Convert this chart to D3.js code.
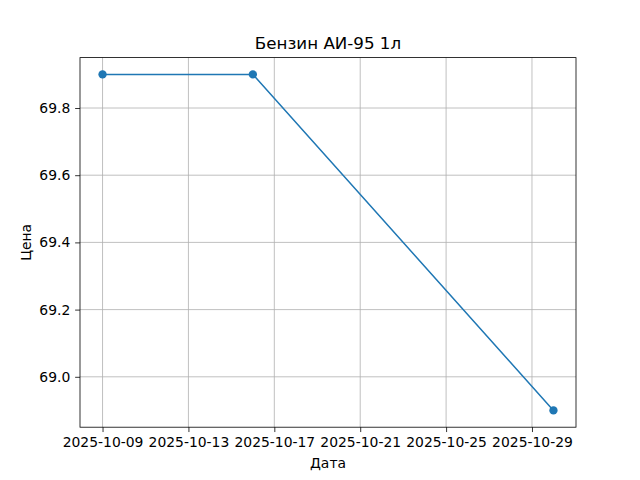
<!DOCTYPE html>
<html><head><meta charset="utf-8">
<script src="https://cdn.jsdelivr.net/npm/d3@7"></script>
<style>body{margin:0;background:#fff}svg{display:block}text{font-family:"DejaVu Sans",sans-serif;fill:#000}</style>
</head><body>
<script>
const dates = ["2025-10-09","2025-10-16","2025-10-30"];
const prices = [69.9, 69.9, 68.9];
const xTickLabels = ["2025-10-09","2025-10-13","2025-10-17","2025-10-21","2025-10-25","2025-10-29"];
const yTicks = [69.0, 69.2, 69.4, 69.6, 69.8];
const title = "Бензин АИ-95 1л";
const xLabel = "Дата";
const yLabel = "Цена";

const W=640,H=480;
const L=80,R=576,T=57.6,B=427.2;
const parse=d3.utcParse("%Y-%m-%d");
const data=dates.map((d,i)=>({d:parse(d),v:prices[i]}));
const x0=+data[0].d, x1=+data[data.length-1].d, span=x1-x0;
const x=d3.scaleUtc().domain([new Date(x0-span*0.05),new Date(x1+span*0.05)]).range([L,R]);
const vmin=d3.min(prices), vmax=d3.max(prices), vs=vmax-vmin;
const y=d3.scaleLinear().domain([vmin-vs*0.05,vmax+vs*0.05]).range([B,T]);

const svg=d3.select("body").append("svg").attr("width",W).attr("height",H);
const xt=xTickLabels.map(parse);
const g=svg.append("g");
g.selectAll(".gx").data(xt).join("line").attr("x1",d=>x(d)).attr("x2",d=>x(d)).attr("y1",T).attr("y2",B).attr("stroke","#b0b0b0").attr("stroke-width",0.8);
g.selectAll(".gy").data(yTicks).join("line").attr("x1",L).attr("x2",R).attr("y1",d=>y(d)).attr("y2",d=>y(d)).attr("stroke","#b0b0b0").attr("stroke-width",0.8);

const xa=svg.append("g").attr("transform",`translate(0,${B})`).call(d3.axisBottom(x).tickValues(xt).tickFormat(d3.utcFormat("%Y-%m-%d")).tickSizeInner(4.86).tickSizeOuter(0).tickPadding(4.86));
const ya=svg.append("g").attr("transform",`translate(${L},0)`).call(d3.axisLeft(y).tickValues(yTicks).tickFormat(d3.format(".1f")).tickSizeInner(4.86).tickSizeOuter(0).tickPadding(4.86));
[xa,ya].forEach(a=>{a.select(".domain").remove();a.selectAll("text").attr("font-size","13.9px").attr("font-family","DejaVu Sans");a.selectAll("line").attr("stroke","#000").attr("stroke-width",0.8);});

svg.append("path").datum(data).attr("fill","none").attr("stroke","#1f77b4").attr("stroke-width",1.5)
 .attr("d",d3.line().x(d=>x(d.d)).y(d=>y(d.v)));
svg.selectAll(".pt").data(data).join("circle").attr("cx",d=>x(d.d)).attr("cy",d=>y(d.v)).attr("r",4.17).attr("fill","#1f77b4");

svg.append("rect").attr("x",L).attr("y",T).attr("width",R-L).attr("height",B-T).attr("fill","none").attr("stroke","#000").attr("stroke-width",0.8);

svg.append("text").attr("x",(L+R)/2).attr("y",T-8.8).attr("text-anchor","middle").attr("font-size","16.7px").text(title);
svg.append("text").attr("x",(L+R)/2).attr("y",468).attr("text-anchor","middle").attr("font-size","13.9px").text(xLabel);
svg.append("text").attr("transform",`translate(31,${(T+B)/2}) rotate(-90)`).attr("text-anchor","middle").attr("font-size","13.9px").text(yLabel);
</script>
</body></html>
